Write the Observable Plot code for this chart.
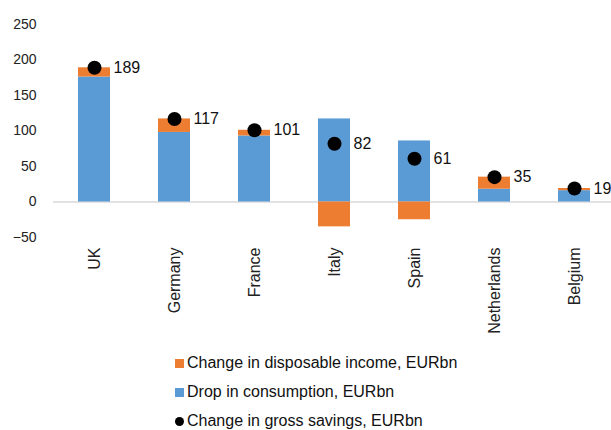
<!DOCTYPE html>
<html>
<head>
<meta charset="utf-8">
<script src="https://cdn.jsdelivr.net/npm/d3@7"></script>
<script src="https://cdn.jsdelivr.net/npm/@observablehq/plot@0.6"></script>
<style>
  html, body { margin: 0; padding: 0; background: #fff; }
  body { width: 611px; height: 430px; position: relative; overflow: hidden; font-family: "Liberation Sans", Arial, sans-serif; }
  #chart { position: absolute; left: 0; top: 0; }
  .leg { position: absolute; left: 175px; font-size: 16px; line-height: 20px; color: #111; white-space: nowrap; }
  .leg .sw { display: inline-block; width: 9px; height: 9px; margin-right: 3px; vertical-align: 0px; }
  .leg .dt { display: inline-block; width: 9px; height: 9px; border-radius: 50%; background: #000; margin-right: 3px; vertical-align: 0px; }
</style>
</head>
<body>
<div id="chart"></div>
<div id="legend"></div>
<script>
const countries = ["UK", "Germany", "France", "Italy", "Spain", "Netherlands", "Belgium"];
const consumption = [176, 98, 93, 117, 86, 18, 16];
const income = [13, 19, 8, -35, -25, 17, 3];
const savings = [189, 117, 101, 82, 61, 35, 19];
const yTicks = [-50, 0, 50, 100, 150, 200, 250];
const seriesNames = ["Change in disposable income, EURbn", "Drop in consumption, EURbn", "Change in gross savings, EURbn"];
const seriesColors = ["#ED7D31", "#5B9BD5", "#000000"];

const barRows = [];
countries.forEach((c, i) => {
  barRows.push({country: c, series: seriesNames[1], value: consumption[i]});
  barRows.push({country: c, series: seriesNames[0], value: income[i]});
});
const dotRows = countries.map((c, i) => ({country: c, value: savings[i]}));

const chart = Plot.plot({
  width: 611,
  height: 340,
  marginTop: 24,
  marginBottom: 103,
  marginLeft: 53,
  marginRight: 0,
  style: {fontFamily: "'Liberation Sans', Arial, sans-serif", color: "#222", background: "transparent"},
  x: {domain: countries, range: [53.2, 614.8], paddingInner: 0.6, paddingOuter: 0.3, label: null},
  y: {domain: [-50, 250], label: null},
  color: {domain: [seriesNames[0], seriesNames[1]], range: [seriesColors[0], seriesColors[1]]},
  marks: [
    Plot.ruleY([0], {stroke: "#d9d9d9", strokeWidth: 1.3}),
    Plot.barY(barRows, Plot.stackY({x: "country", y: "value", fill: "series", order: [seriesNames[1], seriesNames[0]]})),
    Plot.dot(dotRows, {x: "country", y: "value", r: 7, fill: "#000"}),
    Plot.text(dotRows, {x: "country", y: "value", text: d => String(d.value), dx: 19, textAnchor: "start", fontSize: 16, fill: "#111"}),
    Plot.axisY({ticks: yTicks, tickSize: 0, tickPadding: 17, fontSize: 14, label: null}),
    Plot.axisX({tickSize: 0, tickPadding: 10, tickRotate: -90, fontSize: 16, label: null})
  ]
});
document.getElementById("chart").appendChild(chart);

const legend = document.getElementById("legend");
const rowTops = [352.5, 382, 411];
seriesNames.forEach((name, i) => {
  const div = document.createElement("div");
  div.className = "leg";
  div.style.top = rowTops[i] + "px";
  const sw = document.createElement("span");
  if (i === 2) {
    sw.className = "dt";
  } else {
    sw.className = "sw";
    sw.style.background = seriesColors[i];
  }
  div.appendChild(sw);
  div.appendChild(document.createTextNode(name));
  legend.appendChild(div);
});
</script>
</body>
</html>
